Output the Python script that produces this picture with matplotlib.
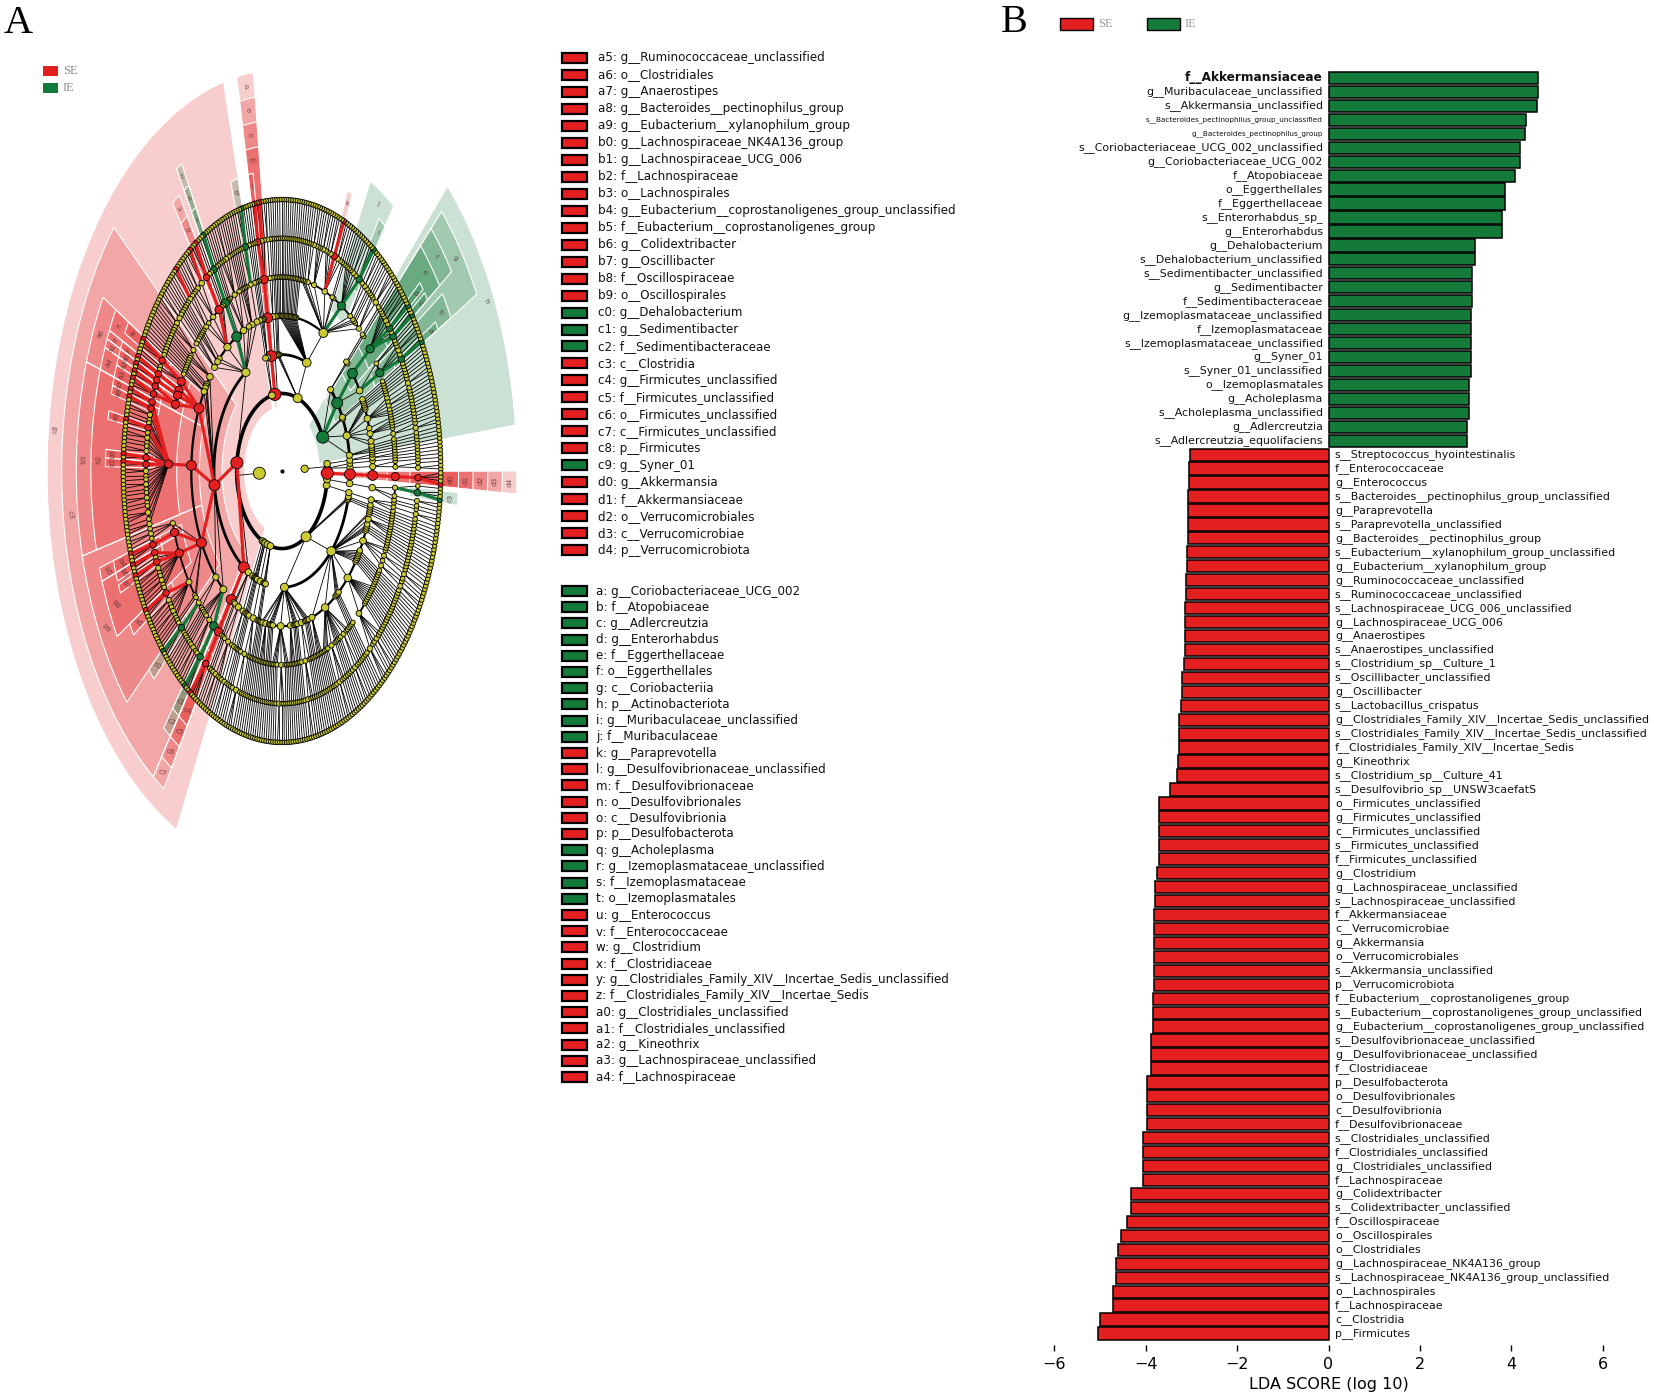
import numpy as np
import matplotlib
matplotlib.use("Agg")
import matplotlib.pyplot as plt
from matplotlib.patches import Wedge, Rectangle
from matplotlib.collections import LineCollection

# ------------------------------------------------------------------
# Panel B data: LDA scores
# ------------------------------------------------------------------
IE_TAXA = [
    "f__Akkermansiaceae", "g__Muribaculaceae_unclassified", "s__Akkermansia_unclassified",
    "s__Bacteroides_pectinophilus_group_unclassified", "g__Bacteroides_pectinophilus_group",
    "s__Coriobacteriaceae_UCG_002_unclassified", "g__Coriobacteriaceae_UCG_002",
    "f__Atopobiaceae", "o__Eggerthellales", "f__Eggerthellaceae", "s__Enterorhabdus_sp_",
    "g__Enterorhabdus", "g__Dehalobacterium", "s__Dehalobacterium_unclassified",
    "s__Sedimentibacter_unclassified", "g__Sedimentibacter", "f__Sedimentibacteraceae",
    "g__Izemoplasmataceae_unclassified", "f__Izemoplasmataceae",
    "s__Izemoplasmataceae_unclassified", "g__Syner_01", "s__Syner_01_unclassified",
    "o__Izemoplasmatales", "g__Acholeplasma", "s__Acholeplasma_unclassified",
    "g__Adlercreutzia", "s__Adlercreutzia_equolifaciens",
]
IE_LDA = [4.58, 4.58, 4.57, 4.32, 4.30, 4.18, 4.18, 4.08, 3.87, 3.87, 3.80, 3.80,
          3.21, 3.21, 3.15, 3.15, 3.15, 3.12, 3.12, 3.12, 3.11, 3.11, 3.08, 3.07,
          3.07, 3.04, 3.04]

SE_TAXA = [
    "s__Streptococcus_hyointestinalis", "f__Enterococcaceae", "g__Enterococcus",
    "s__Bacteroides__pectinophilus_group_unclassified", "g__Paraprevotella",
    "s__Paraprevotella_unclassified", "g__Bacteroides__pectinophilus_group",
    "s__Eubacterium__xylanophilum_group_unclassified", "g__Eubacterium__xylanophilum_group",
    "g__Ruminococcaceae_unclassified", "s__Ruminococcaceae_unclassified",
    "s__Lachnospiraceae_UCG_006_unclassified", "g__Lachnospiraceae_UCG_006",
    "g__Anaerostipes", "s__Anaerostipes_unclassified", "s__Clostridium_sp__Culture_1",
    "s__Oscillibacter_unclassified", "g__Oscillibacter", "s__Lactobacillus_crispatus",
    "g__Clostridiales_Family_XIV__Incertae_Sedis_unclassified",
    "s__Clostridiales_Family_XIV__Incertae_Sedis_unclassified",
    "f__Clostridiales_Family_XIV__Incertae_Sedis", "g__Kineothrix",
    "s__Clostridium_sp__Culture_41", "s__Desulfovibrio_sp__UNSW3caefatS",
    "o__Firmicutes_unclassified", "g__Firmicutes_unclassified", "c__Firmicutes_unclassified",
    "s__Firmicutes_unclassified", "f__Firmicutes_unclassified", "g__Clostridium",
    "g__Lachnospiraceae_unclassified", "s__Lachnospiraceae_unclassified",
    "f__Akkermansiaceae", "c__Verrucomicrobiae", "g__Akkermansia", "o__Verrucomicrobiales",
    "s__Akkermansia_unclassified", "p__Verrucomicrobiota",
    "f__Eubacterium__coprostanoligenes_group",
    "s__Eubacterium__coprostanoligenes_group_unclassified",
    "g__Eubacterium__coprostanoligenes_group_unclassified",
    "s__Desulfovibrionaceae_unclassified", "g__Desulfovibrionaceae_unclassified",
    "f__Clostridiaceae", "p__Desulfobacterota", "o__Desulfovibrionales", "c__Desulfovibrionia",
    "f__Desulfovibrionaceae", "s__Clostridiales_unclassified", "f__Clostridiales_unclassified",
    "g__Clostridiales_unclassified", "f__Lachnospiraceae", "g__Colidextribacter",
    "s__Colidextribacter_unclassified", "f__Oscillospiraceae", "o__Oscillospirales",
    "o__Clostridiales", "g__Lachnospiraceae_NK4A136_group",
    "s__Lachnospiraceae_NK4A136_group_unclassified", "o__Lachnospirales",
    "f__Lachnospiraceae", "c__Clostridia", "p__Firmicutes",
]
SE_LDA = [-3.03, -3.06, -3.06, -3.08, -3.08, -3.08, -3.08, -3.10, -3.10, -3.11, -3.11,
          -3.13, -3.13, -3.13, -3.13, -3.17, -3.20, -3.20, -3.22, -3.28, -3.28, -3.28,
          -3.30, -3.31, -3.47, -3.70, -3.70, -3.70, -3.70, -3.70, -3.76, -3.80, -3.80,
          -3.82, -3.82, -3.82, -3.82, -3.82, -3.82, -3.84, -3.84, -3.84, -3.88, -3.88,
          -3.88, -3.97, -3.97, -3.97, -3.97, -4.07, -4.07, -4.07, -4.07, -4.33, -4.33,
          -4.40, -4.53, -4.60, -4.65, -4.65, -4.71, -4.71, -4.99, -5.04]

LDA_TICKS = [-6, -4, -2, 0, 2, 4, 6]
GROUPS = ["SE", "IE"]
GROUP_COLORS = {"SE": "#e31f1f", "IE": "#147a3a"}

# ------------------------------------------------------------------
# Panel A data: cladogram legend (letter codes)
# ------------------------------------------------------------------
LEGEND1_CODES = ["a5", "a6", "a7", "a8", "a9", "b0", "b1", "b2", "b3", "b4", "b5", "b6", "b7",
                 "b8", "b9", "c0", "c1", "c2", "c3", "c4", "c5", "c6", "c7", "c8", "c9",
                 "d0", "d1", "d2", "d3", "d4"]
LEGEND1_NAMES = [
    "g__Ruminococcaceae_unclassified", "o__Clostridiales", "g__Anaerostipes",
    "g__Bacteroides__pectinophilus_group", "g__Eubacterium__xylanophilum_group",
    "g__Lachnospiraceae_NK4A136_group", "g__Lachnospiraceae_UCG_006", "f__Lachnospiraceae",
    "o__Lachnospirales", "g__Eubacterium__coprostanoligenes_group_unclassified",
    "f__Eubacterium__coprostanoligenes_group", "g__Colidextribacter", "g__Oscillibacter",
    "f__Oscillospiraceae", "o__Oscillospirales", "g__Dehalobacterium", "g__Sedimentibacter",
    "f__Sedimentibacteraceae", "c__Clostridia", "g__Firmicutes_unclassified",
    "f__Firmicutes_unclassified", "o__Firmicutes_unclassified", "c__Firmicutes_unclassified",
    "p__Firmicutes", "g__Syner_01", "g__Akkermansia", "f__Akkermansiaceae",
    "o__Verrucomicrobiales", "c__Verrucomicrobiae", "p__Verrucomicrobiota",
]
LEGEND1_GROUPS = ["SE"] * 15 + ["IE"] * 3 + ["SE"] * 6 + ["IE"] + ["SE"] * 5

LEGEND2_CODES = ["a", "b", "c", "d", "e", "f", "g", "h", "i", "j", "k", "l", "m", "n", "o",
                 "p", "q", "r", "s", "t", "u", "v", "w", "x", "y", "z", "a0", "a1", "a2",
                 "a3", "a4"]
LEGEND2_NAMES = [
    "g__Coriobacteriaceae_UCG_002", "f__Atopobiaceae", "g__Adlercreutzia", "g__Enterorhabdus",
    "f__Eggerthellaceae", "o__Eggerthellales", "c__Coriobacteriia", "p__Actinobacteriota",
    "g__Muribaculaceae_unclassified", "f__Muribaculaceae", "g__Paraprevotella",
    "g__Desulfovibrionaceae_unclassified", "f__Desulfovibrionaceae", "o__Desulfovibrionales",
    "c__Desulfovibrionia", "p__Desulfobacterota", "g__Acholeplasma",
    "g__Izemoplasmataceae_unclassified", "f__Izemoplasmataceae", "o__Izemoplasmatales",
    "g__Enterococcus", "f__Enterococcaceae", "g__Clostridium", "f__Clostridiaceae",
    "g__Clostridiales_Family_XIV__Incertae_Sedis_unclassified",
    "f__Clostridiales_Family_XIV__Incertae_Sedis", "g__Clostridiales_unclassified",
    "f__Clostridiales_unclassified", "g__Kineothrix", "g__Lachnospiraceae_unclassified",
    "f__Lachnospiraceae",
]
LEGEND2_GROUPS = ["IE"] * 10 + ["SE"] * 6 + ["IE"] * 4 + ["SE"] * 11

# ------------------------------------------------------------------
# Panel A data: taxonomy tree.
# (name, children): phylum -> classes -> orders -> families -> genera.
# In class/order/family lists an int k is an unnamed single lineage ending in
# one genus with k species.  In a family's genus list: int = genus with n species,
# (code, n) = marked genus, (name, n, group) = genus whose first species is marked.
# ------------------------------------------------------------------
ARCHAEA = [
    ("Euryarchaeota", [("Methanobacteria", [("Methanobacteriales", [("Methanobacteriaceae", [2, 1]), 1])]), 1]),
    ("Thermoplasmatota", [("Thermoplasmata", [("Methanomassiliicoccales", [1, 1]), 1])]),
]
ACTINOBACTERIOTA = ("h", [
    ("Acidimicrobiia", [1, 1, 1]),
    ("Actinobacteria", [1, ("Bifidobacteriales", [("Bifidobacteriaceae", [2, 1])]),
                        ("Corynebacteriales", [1, 1, 1, 1]), 1,
                        ("Micrococcales", [1, 1, 1, ("Microbacteriaceae", [1, 1]), 1, 2]),
                        1, 1, 1, 1]),
    1, 1,
    ("g", [
        ("Coriobacteriales", [("b", [("a", 2), 1, 2, 1]), ("Coriobacteriaceae", [1, 1])]),
        ("f", [("e", [("c", 2), 1, ("d", 2), 1, 2, 1, 1, 1])]),
    ]),
    ("Thermoleophilia", [1, 1]),
])
BACTEROIDOTA = ("Bacteroidota", [
    ("Bacteroidia", [
        ("Bacteroidales", [("Bacteroidaceae", [3, 1, 1]), 1, 1, 1, ("Marinifilaceae", [2, 1]),
                           ("j", [("i", 3), 1, 2, 1, 1, 1, 1]), 1, 1,
                           ("Prevotellaceae", [1, 2, ("k", 2), 2, 1, 1]),
                           ("Rikenellaceae", [2, 1, 1, 1]), ("Tannerellaceae", [2, 1]), 1, 1, 1]),
        1, 1, 1, 1, 1, 1, 1, 1, 1, 1, 1, 1, 1, 1,
    ]),
    1, 1, 1,
])
CAMPILOBACTEROTA = ("Campilobacterota", [("Campylobacteria", [("Campylobacterales", [1, 2])])])
DESULFOBACTEROTA = ("p", [("o", [("n", [("m", [1, ("Desulfovibrio", 2, "SE"), ("l", 2)])])])])
ELUSIMICROBIOTA = ("Elusimicrobiota", [("Elusimicrobia", [1, 1, 1]), 1])
FIRMICUTES = ("c8", [
    ("Bacilli", [
        ("Acholeplasmatales", [("Acholeplasmataceae", [("q", 3), 1])]),
        ("Bacillales", [1, 1, 1, 1]),
        1,
        ("Erysipelotrichales", [1, ("Erysipelotrichaceae", [1, 2, 1, 1]), 1, 1]),
        1,
        ("t", [("s", [("r", 2)])]),
        ("Lactobacillales", [1, 1, ("v", [("u", 3)]),
                             ("Lactobacillaceae", [("Lactobacillus", 3, "SE"), 2, 1]), 1,
                             ("Streptococcaceae", [1, ("Streptococcus", 2, "SE")])]),
        1,
        ("RF39", [1, 1, 1]),
        ("Staphylococcales", [1, 1, 2]),
    ]),
    ("c3", [
        ("Christensenellales", [("Christensenellaceae", [2, 1, 1]), 1, 1, 1]),
        1, 1, 1,
        ("Clostridia_vadinBB60", [1, 1, 1]),
        ("a6", [("x", [("w", 3), 1, 1]), ("z", [("y", 2)]), ("a1", [("a0", 2)]),
                ("a4", [("a2", 2), ("a3", 3)])]),
        ("b3", [("b2", [("a7", 2), ("a8", 2), 2, 1, 1, ("a9", 2), 1, 2, 1, 1, 2, ("b0", 2),
                        ("b1", 2), 2, 1, 1, 2, 1, 1, 2, 1, 1, 3, 1, 2])]),
        ("b9", [("Butyricicoccaceae", [1, 2, 1]), ("b5", [("b4", 3)]),
                ("b8", [("b6", 2), 1, ("b7", 2), 2, 1, 1, 2, 1, 1]),
                ("Ruminococcaceae", [("a5", 3), 2, 1, 1, 2, 1, 1]), 1, 1]),
        ("Peptococcales", [("Peptococcaceae", [("c0", 3), 1]), 1]),
        ("Peptostreptococcales", [1, 1, 1, 1, ("Peptostreptococcaceae", [2, 1, 1]),
                                  ("c2", [("c1", 3)])]),
    ]),
    ("c7", [("c6", [("c5", [("c4", 4)])])]),
    ("Negativicutes", [1, 1, ("Veillonellales", [1, ("Veillonellaceae", [2, 1, 1])])]),
])
FUSOBACTERIOTA = ("Fusobacteriota", [("Fusobacteriia", [("Fusobacteriales", [1, 2])])])
GEMMATIMONADOTA = ("Gemmatimonadota", [1, 1])
MYXOCOCCOTA = ("Myxococcota", [1, 1])
PATESCIBACTERIA = ("Patescibacteria", [("Saccharimonadia", [("Saccharimonadales", [
    ("Saccharimonadaceae", [3, 1]), 1, 1])])])
PLANCTOMYCETOTA = ("Planctomycetota", [1, 1, 1])
PROTEOBACTERIA = ("Proteobacteria", [
    ("Alphaproteobacteria", [
        1, 1, ("Caulobacterales", [1, 1, 1, 1]), 1, 1, 1, 1,
        ("Rhizobiales", [1, 1, 1, 1, ("Rhizobiaceae", [2, 1, 1]), 1, 1, 1]),
        ("Rhodobacterales", [1, 1, 1, 1]), 1, 1, 1, 1,
        ("Sphingomonadales", [("Sphingomonadaceae", [2, 1, 1]), 1]), 1, 1, 1, 1,
    ]),
    ("Gammaproteobacteria", [
        ("Aeromonadales", [1, 1, 1, 1]),
        ("Burkholderiales", [1, 1, 1, 1, ("Comamonadaceae", [2, 1, 1]), 1, 1, 1, 1, 1,
                             ("Sutterellaceae", [2, 1]), 1, 1]),
        1, 1, 1, 1,
        ("Enterobacterales", [("Enterobacteriaceae", [3, 1, 1, 2, 1, 1]),
                              1, 1, 1, 1, 1, 1, 1, 1, 1]),
        1, 1, 1, 1, 1, 1, 1,
        ("Pseudomonadales", [("Moraxellaceae", [2, 1]), 1, ("Pseudomonadaceae", [2, 1]), 1, 1]),
        1, 1, 1, 1,
        ("Xanthomonadales", [1, 1, 1, 1]),
        1, 1,
    ]),
    1, 1, 1,
])
SPIROCHAETOTA = ("Spirochaetota", [("Spirochaetia", [("Spirochaetales", [1, 2, 1])])])
SYNERGISTOTA = ("Synergistota", [("Synergistia", [("Synergistales", [1, 2, ("Synergistaceae", [("c9", 3), 1])])])])
VERRUCOMICROBIOTA = ("d4", [("d3", [("d2", [("d1", [("d0", 4)])])])])

BACTERIA = [ACTINOBACTERIOTA, BACTEROIDOTA, CAMPILOBACTEROTA, DESULFOBACTEROTA, ELUSIMICROBIOTA,
            FIRMICUTES, FUSOBACTERIOTA, GEMMATIMONADOTA, MYXOCOCCOTA, PATESCIBACTERIA,
            PLANCTOMYCETOTA, PROTEOBACTERIA, SPIROCHAETOTA, SYNERGISTOTA, VERRUCOMICROBIOTA]
KINGDOMS = [("Archaea", ARCHAEA), ("Bacteria", BACTERIA)]

SERIF = "Liberation Serif"
SANS = "DejaVu Sans"

# ------------------------------------------------------------------
# figure
# ------------------------------------------------------------------
W, H = 1654, 1398
fig = plt.figure(figsize=(W / 100, H / 100), dpi=100)
fig.patch.set_facecolor("white")


def px_axes(left, top, width, height):
    return fig.add_axes([left / W, 1 - (top + height) / H, width / W, height / H])


# ============================ Panel A =============================
CODE_GROUP = dict(zip(LEGEND1_CODES + LEGEND2_CODES, LEGEND1_GROUPS + LEGEND2_GROUPS))
R_LEVEL = [0.0, 0.14, 0.28, 0.42, 0.56, 0.70, 0.84, 0.98]
R_OUT = {2: 1.45, 3: 1.36, 4: 1.27, 5: 1.18, 6: 1.09}
BASE_PX = [3, 12, 11, 10, 9, 7.5, 6.0, 4.6]
YELLOW = "#c9c932"


class Node:
    def __init__(self, name, level, children, group=None):
        self.name, self.level, self.children, self.group = name, level, children, group
        self.lo = self.hi = None
        self.ang = 0.0


leaf_count = [0]


def new_leaf(group):
    n = Node("", 7, [], group)
    n.lo = n.hi = leaf_count[0]
    leaf_count[0] += 1
    return n


def make_genus(spec):
    if isinstance(spec, int):
        name, nsp, sgrp = "", spec, None
    elif len(spec) == 2:
        (name, nsp), sgrp = spec, None
    else:
        name, nsp, sgrp = spec
    grp = CODE_GROUP.get(name)
    first = grp or sgrp
    kids = [new_leaf(first if k == 0 else None) for k in range(nsp)]
    g = Node(name, 6, kids, grp)
    g.lo, g.hi = kids[0].lo, kids[-1].hi
    return g


def make_node(spec, level):
    if isinstance(spec, int):
        if level == 6:
            return make_genus(spec)
        child = make_node(spec, level + 1)
        n = Node("", level, [child])
        n.lo, n.hi = child.lo, child.hi
        return n
    name, sub = spec
    if level == 5:
        kids = [make_genus(s) for s in sub]
    else:
        kids = [make_node(s, level + 1) for s in sub]
    n = Node(name, level, kids, CODE_GROUP.get(name))
    n.lo, n.hi = kids[0].lo, kids[-1].hi
    return n


kingdom_nodes = []
for kname, phyla in KINGDOMS:
    kids = [make_node(p, 2) for p in phyla]
    k = Node(kname, 1, kids)
    k.lo, k.hi = kids[0].lo, kids[-1].hi
    kingdom_nodes.append(k)

N_LEAF = leaf_count[0]
DELTA = 360.0 / N_LEAF


def leaf_ang(i):
    return (i + 0.5) * DELTA


all_nodes = []


def walk(n):
    n.ang = 0.5 * (leaf_ang(n.lo) + leaf_ang(n.hi))
    all_nodes.append(n)
    for c in n.children:
        walk(c)


for k in kingdom_nodes:
    walk(k)

max_leaves = {}
for n in all_nodes:
    max_leaves[n.level] = max(max_leaves.get(n.level, 1), n.hi - n.lo + 1)


def pol(r, a):
    t = np.deg2rad(a)
    return r * np.cos(t), r * np.sin(t)


RX, RY = 162.0, 277.0  # pixels per unit
CX, CY = 282.0, 471.0
LIM = 1.65
axA = px_axes(CX - LIM * RX, CY - LIM * RY, 2 * LIM * RX, 2 * LIM * RY)
axA.set_xlim(-LIM, LIM)
axA.set_ylim(-LIM, LIM)
axA.set_aspect("auto")
axA.axis("off")

# highlighted clades (shaded sectors + letters)
for n in all_nodes:
    if n.group is None or n.level > 6 or n.name not in CODE_GROUP:
        continue
    col = matplotlib.colors.to_rgb(GROUP_COLORS[n.group])
    a1 = leaf_ang(n.lo) - DELTA / 2
    a2 = leaf_ang(n.hi) + DELTA / 2
    rin = R_LEVEL[n.level] - 0.05
    rout = R_OUT[n.level]
    axA.add_patch(Wedge((0, 0), rout, a1, a2, width=rout - rin,
                        facecolor=(*col, 0.22), edgecolor="white", linewidth=0.8, zorder=1))
    rl = rout - 0.045
    x, y = pol(rl, n.ang)
    t = np.deg2rad(n.ang)
    phi = np.degrees(np.arctan2(RY * np.sin(t), RX * np.cos(t)))
    rot = phi - 90
    while rot > 90:
        rot -= 180
    while rot < -90:
        rot += 180
    axA.text(x, y, n.name, fontsize=5.2, color=(0.3, 0.15, 0.15), alpha=0.75,
             rotation=rot, ha="center", va="center", zorder=4, rotation_mode="anchor")

# branches
black_segs, col_segs, col_cols = [], [], []
arc_lines = []
for n in all_nodes:
    if not n.children:
        continue
    cl = n.level + 1
    angs = [c.ang for c in n.children]
    a1, a2 = min(angs), max(angs)
    if a2 > a1:
        aa = np.linspace(a1, a2, max(2, int((a2 - a1) / 0.4) + 2))
        xs, ys = pol(R_LEVEL[cl], aa)
        arc_lines.append((xs, ys, cl))
    if n.level == 1:
        black_segs.append([pol(R_LEVEL[1], n.ang), pol(R_LEVEL[2], n.ang)])
        continue
    for c in n.children:
        seg = [pol(R_LEVEL[n.level], n.ang), pol(R_LEVEL[cl], c.ang)]
        if c.group is not None:
            col_segs.append(seg)
            col_cols.append(GROUP_COLORS[c.group])
        else:
            black_segs.append(seg)

ARC_LW = {2: 2.6, 3: 2.0, 4: 1.6, 5: 1.3, 6: 1.1, 7: 0.9}
for xs, ys, cl in arc_lines:
    axA.plot(xs, ys, color="black", lw=ARC_LW[cl], zorder=2, solid_capstyle="round")
axA.add_collection(LineCollection(black_segs, colors="black", linewidths=0.6, zorder=2))
axA.add_collection(LineCollection(col_segs, colors=col_cols, linewidths=2.3, zorder=2.5))

# nodes
xs, ys, ss, fc = [], [], [], []
for n in all_nodes:
    x, y = pol(R_LEVEL[n.level], n.ang)
    frac = (n.hi - n.lo + 1) / max_leaves[n.level]
    d = BASE_PX[n.level] * (0.55 + 0.45 * np.sqrt(frac))
    if n.level >= 4:
        d = max(d, 4.4)
    if n.group is not None:
        d = max(d, BASE_PX[n.level] * 1.1)
        fc.append(GROUP_COLORS[n.group])
    else:
        fc.append(YELLOW)
    xs.append(x)
    ys.append(y)
    ss.append((d * 0.72) ** 2)
axA.scatter(xs, ys, s=ss, c=fc, edgecolors="black", linewidths=0.6, zorder=3)
axA.scatter([0], [0], s=4, c="black", zorder=3)

# ---------------- overlay (pixel coordinates) ----------------
ov = fig.add_axes([0, 0, 1, 1])
ov.set_xlim(0, W)
ov.set_ylim(H, 0)
ov.axis("off")

ov.text(4, 33, "A", fontsize=29, family=SERIF, va="baseline", ha="left")
ov.text(1001, 32, "B", fontsize=29, family=SERIF, va="baseline", ha="left")

for i, g in enumerate(GROUPS):
    yy = 71 + i * 17
    ov.add_patch(Rectangle((43, yy - 5), 15, 10, facecolor=GROUP_COLORS[g], edgecolor="none"))
    ov.text(63, yy, g, fontsize=9, family=SERIF, color="#8c8c8c", va="center", ha="left")

for i, g in enumerate(GROUPS):
    xx = 1060 + i * 87
    ov.add_patch(Rectangle((xx, 18), 33, 12, facecolor=GROUP_COLORS[g], edgecolor="black", lw=1.0))
    ov.text(xx + 38, 24, g, fontsize=9, family=SERIF, color="#9a9a9a", va="center", ha="left")


def draw_list(codes, names, groups, y0, dy, tx):
    for i, (c, nm, g) in enumerate(zip(codes, names, groups)):
        yy = y0 + i * dy
        ov.add_patch(Rectangle((562, yy - 5), 25, 10, facecolor=GROUP_COLORS[g],
                               edgecolor="black", lw=1.6))
        ov.text(tx, yy, f"{c}: {nm}", fontsize=8.6, family=SANS, va="center",
                ha="left", color="#111111")


draw_list(LEGEND1_CODES, LEGEND1_NAMES, LEGEND1_GROUPS, 58, 16.97, 598)
draw_list(LEGEND2_CODES, LEGEND2_NAMES, LEGEND2_GROUPS, 591, 16.2, 596)

# ============================ Panel B =============================
PX_UNIT = 45.7
X0PX = 1328.5
XL = 6.3
STEP = 13.95
TOP_Y = 78.0
labels = IE_TAXA + SE_TAXA
values = IE_LDA + SE_LDA
n_bars = len(labels)
ylo, yhi = -0.57, (n_bars - 1) + 0.86
axB = px_axes(X0PX - XL * PX_UNIT, TOP_Y + ylo * STEP, 2 * XL * PX_UNIT, (yhi - ylo) * STEP)
axB.set_xlim(-XL, XL)
axB.set_ylim(yhi, ylo)
ypos = np.arange(n_bars)
cols = [GROUP_COLORS["IE"] if v > 0 else GROUP_COLORS["SE"] for v in values]
axB.barh(ypos, values, height=0.88, color=cols, edgecolor="black", linewidth=1.1, zorder=2)
for sp in axB.spines.values():
    sp.set_visible(False)
axB.set_yticks([])
axB.set_xticks(LDA_TICKS)
axB.set_xticklabels([f"{t:d}".replace("-", "\u2212") for t in LDA_TICKS])
axB.tick_params(axis="x", length=4.5, width=1.0, labelsize=11.5, pad=3.5)
axB.set_xlabel("LDA SCORE (log 10)", fontsize=11.5, labelpad=4)
axB.patch.set_visible(False)

for i, (lab, v) in enumerate(zip(labels, values)):
    fs = 7.9
    weight = "normal"
    if i == 0:
        fs *= 1.1
        weight = "bold"
    elif i in (3, 4):
        fs *= 0.66
    if v > 0:
        axB.text(-0.12, i, lab, ha="right", va="center", fontsize=fs, fontweight=weight,
                 color="#111111", family=SANS)
    else:
        axB.text(0.14, i, lab, ha="left", va="center", fontsize=fs, fontweight=weight,
                 color="#111111", family=SANS)

fig.savefig("out.png", dpi=100, facecolor="white")
